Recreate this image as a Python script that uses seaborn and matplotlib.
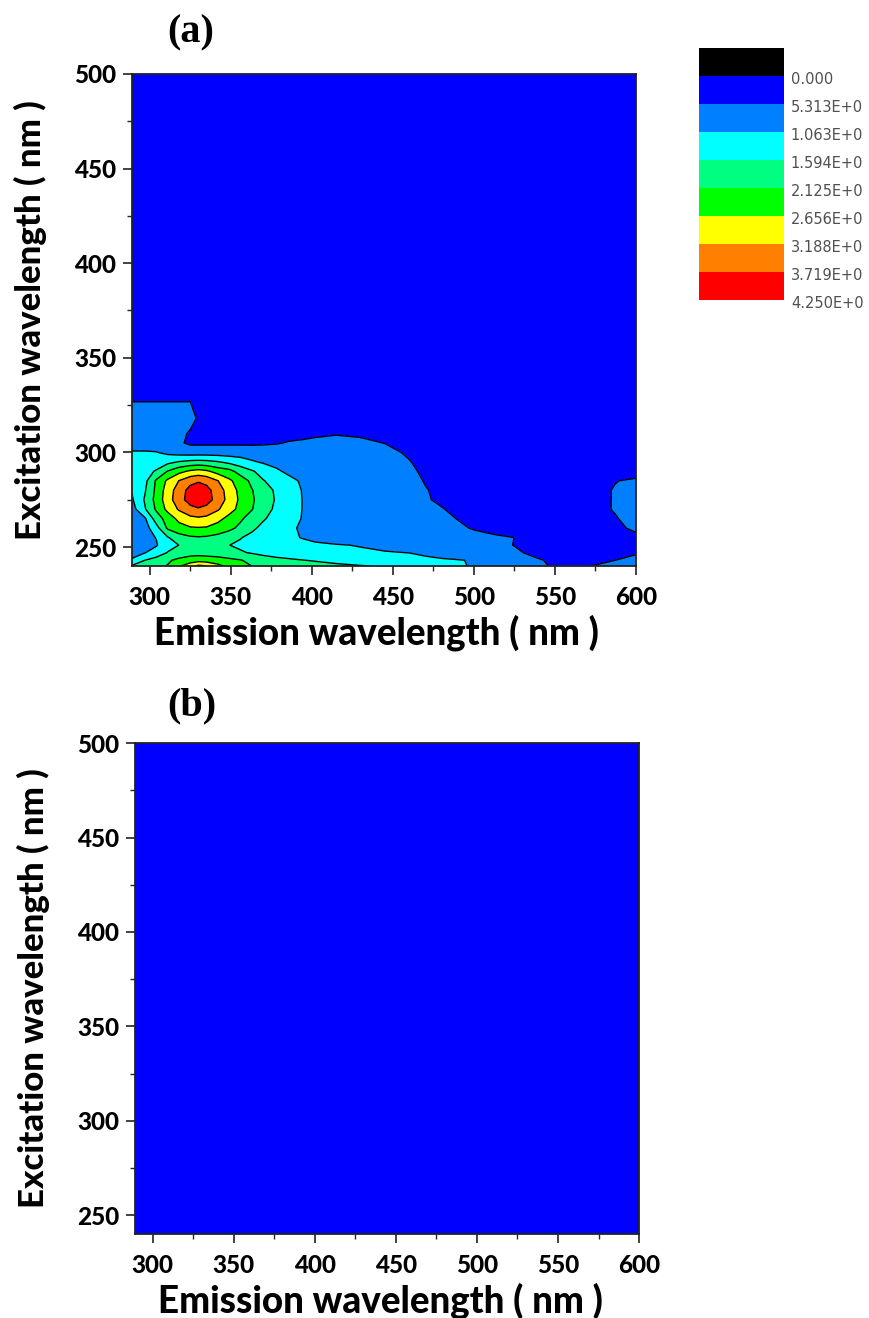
import matplotlib
matplotlib.use("Agg")
import matplotlib.pyplot as plt
from matplotlib.ticker import MultipleLocator
from matplotlib.transforms import ScaledTranslation
import numpy as np
import seaborn as sns

# emission (x) and excitation (y) grid nodes for panel (a), nm
EM_NODES = [289, 297, 304, 311, 318, 325, 330, 335, 342, 349, 356, 363, 370, 378, 386, 394,
            402, 415, 430, 445, 460, 470, 480, 490, 500, 512, 525, 537, 550, 562, 575, 587, 600]
EX_NODES = [240, 243, 247, 251, 255, 260, 265, 270, 275, 280, 285, 290, 295, 300, 305, 310,
            318, 328, 340, 500]

# fluorescence intensity, one row per excitation node
INTENSITY_A = [
    # 240
    [1.65, 1.85, 2.0, 2.15, 2.6, 2.95, 3.3, 3.2, 2.8, 2.5, 2.3, 2.12, 2.0, 1.9, 1.85, 1.8,
     1.75, 1.7, 1.62, 1.55, 1.4, 1.3, 1.2, 1.15, 1.0, 0.85, 0.7, 0.6, 0.5, 0.42, 0.55, 0.62, 0.7],
    # 243
    [1.1, 1.6, 1.8, 2.05, 2.25, 2.4, 2.45, 2.4, 2.35, 2.25, 2.15, 2.0, 1.85, 1.75, 1.68, 1.61,
     1.56, 1.45, 1.35, 1.25, 1.18, 1.14, 1.1, 1.08, 1.04, 0.9, 0.75, 0.6, 0.45, 0.4, 0.45, 0.53, 0.62],
    # 247
    [0.95, 1.05, 1.3, 1.62, 1.8, 1.9, 1.92, 1.9, 1.85, 1.75, 1.65, 1.55, 1.45, 1.35, 1.28, 1.22,
     1.18, 1.14, 1.1, 1.08, 1.06, 1.0, 0.95, 0.88, 0.8, 0.7, 0.6, 0.45, 0.35, 0.3, 0.35, 0.42, 0.5],
    # 251
    [0.85, 0.92, 1.02, 1.4, 1.6, 1.75, 1.78, 1.75, 1.7, 1.6, 1.5, 1.4, 1.3, 1.25, 1.2, 1.15,
     1.12, 1.08, 1.05, 1.0, 0.95, 0.9, 0.85, 0.8, 0.72, 0.65, 0.52, 0.4, 0.32, 0.3, 0.3, 0.32, 0.4],
    # 255
    [0.82, 0.9, 1.08, 1.55, 1.9, 2.05, 2.08, 2.05, 1.95, 1.8, 1.62, 1.45, 1.3, 1.2, 1.12, 1.05,
     0.98, 0.93, 0.9, 0.86, 0.82, 0.78, 0.74, 0.7, 0.66, 0.6, 0.53, 0.42, 0.35, 0.3, 0.3, 0.35, 0.45],
    # 260
    [0.8, 0.85, 1.4, 2.2, 2.45, 2.6, 2.62, 2.6, 2.45, 2.25, 2.0, 1.7, 1.45, 1.3, 1.15, 1.0,
     0.92, 0.86, 0.82, 0.78, 0.74, 0.7, 0.66, 0.6, 0.5, 0.4, 0.35, 0.3, 0.3, 0.3, 0.35, 0.45, 0.6],
    # 265
    [0.8, 1.0, 1.85, 2.35, 2.8, 3.05, 3.1, 3.05, 2.8, 2.5, 2.2, 1.9, 1.65, 1.4, 1.2, 1.05,
     0.95, 0.88, 0.82, 0.76, 0.72, 0.68, 0.62, 0.52, 0.42, 0.35, 0.3, 0.3, 0.3, 0.3, 0.38, 0.5, 0.68],
    # 270
    [0.85, 1.55, 2.2, 2.8, 3.25, 3.55, 3.65, 3.55, 3.25, 2.85, 2.5, 2.15, 1.8, 1.5, 1.25, 1.06,
     0.95, 0.88, 0.82, 0.75, 0.7, 0.65, 0.56, 0.42, 0.35, 0.3, 0.3, 0.3, 0.3, 0.3, 0.42, 0.56, 0.75],
    # 275
    [1.0, 1.65, 2.3, 2.95, 3.5, 3.95, 4.15, 3.95, 3.5, 3.0, 2.55, 2.2, 1.85, 1.55, 1.3, 1.06,
     0.95, 0.85, 0.8, 0.75, 0.7, 0.58, 0.45, 0.35, 0.3, 0.3, 0.3, 0.3, 0.3, 0.35, 0.45, 0.55, 0.7],
    # 280
    [1.1, 1.55, 2.25, 2.9, 3.45, 3.9, 4.1, 3.9, 3.45, 2.95, 2.5, 2.15, 1.82, 1.52, 1.25, 1.05,
     0.95, 0.88, 0.82, 0.78, 0.72, 0.56, 0.42, 0.35, 0.3, 0.3, 0.3, 0.3, 0.3, 0.35, 0.45, 0.55, 0.7],
    # 285
    [1.2, 1.45, 2.2, 2.75, 3.2, 3.55, 3.65, 3.55, 3.2, 2.75, 2.4, 2.0, 1.62, 1.4, 1.2, 1.0,
     0.9, 0.85, 0.82, 0.78, 0.7, 0.5, 0.38, 0.3, 0.3, 0.3, 0.3, 0.3, 0.3, 0.3, 0.4, 0.52, 0.58],
    # 290
    [1.25, 1.4, 1.65, 2.15, 2.5, 2.75, 2.85, 2.75, 2.45, 2.3, 1.9, 1.65, 1.4, 1.15, 0.95, 0.88,
     0.85, 0.83, 0.8, 0.75, 0.62, 0.45, 0.35, 0.3, 0.3, 0.3, 0.3, 0.3, 0.3, 0.3, 0.3, 0.35, 0.4],
    # 295
    [1.2, 1.25, 1.3, 1.45, 1.62, 1.72, 1.75, 1.72, 1.62, 1.45, 1.3, 1.12, 1.0, 0.9, 0.85, 0.83,
     0.85, 0.85, 0.82, 0.75, 0.56, 0.35, 0.3, 0.3, 0.3, 0.3, 0.3, 0.3, 0.3, 0.3, 0.3, 0.3, 0.3],
    # 300
    [1.1, 1.1, 1.08, 0.95, 0.85, 0.8, 0.8, 0.8, 0.8, 0.8, 0.8, 0.78, 0.76, 0.75, 0.75, 0.75,
     0.76, 0.78, 0.76, 0.7, 0.45, 0.3, 0.25, 0.25, 0.25, 0.25, 0.25, 0.25, 0.25, 0.25, 0.25, 0.25, 0.25],
    # 305
    [0.85, 0.85, 0.85, 0.8, 0.6, 0.45, 0.45, 0.45, 0.45, 0.45, 0.45, 0.45, 0.47, 0.5, 0.56, 0.6,
     0.64, 0.68, 0.64, 0.52, 0.35, 0.25, 0.25, 0.25, 0.25, 0.25, 0.25, 0.25, 0.25, 0.25, 0.25, 0.25, 0.25],
    # 310
    [0.75, 0.75, 0.75, 0.75, 0.72, 0.45, 0.4, 0.4, 0.4, 0.4, 0.4, 0.4, 0.4, 0.4, 0.4, 0.4,
     0.45, 0.5, 0.45, 0.35, 0.25, 0.25, 0.25, 0.25, 0.25, 0.25, 0.25, 0.25, 0.25, 0.25, 0.25, 0.25, 0.25],
    # 318
    [0.75, 0.75, 0.75, 0.75, 0.75, 0.75, 0.45, 0.3, 0.3, 0.3, 0.3, 0.3, 0.3, 0.3, 0.3, 0.3,
     0.3, 0.3, 0.3, 0.3, 0.3, 0.3, 0.3, 0.3, 0.3, 0.3, 0.3, 0.3, 0.3, 0.3, 0.3, 0.3, 0.3],
    # 328
    [0.5, 0.5, 0.5, 0.5, 0.5, 0.5, 0.5, 0.25, 0.25, 0.25, 0.25, 0.25, 0.25, 0.25, 0.25, 0.25,
     0.25, 0.25, 0.25, 0.25, 0.25, 0.25, 0.25, 0.25, 0.25, 0.25, 0.25, 0.25, 0.25, 0.25, 0.25, 0.25, 0.25],
    # 340
    [0.2] * 33,
    # 500
    [0.15] * 33,
]

# panel (b): flat, featureless map
EM_B = [289, 600]
EX_B = [240, 500]
INTENSITY_B = [[0.1, 0.1], [0.1, 0.1]]

LEVELS = [-0.5313, 0.0, 0.5313, 1.063, 1.594, 2.125, 2.656, 3.188, 3.719, 4.250]
LEVEL_COLORS = ["#000000", "#0000ff", "#0080ff", "#00ffff", "#00ff80",
                "#00ff00", "#ffff00", "#ff8000", "#ff0000"]
LEVEL_LABELS = ["0.000", "5.313E+0", "1.063E+0", "1.594E+0", "2.125E+0",
                "2.656E+0", "3.188E+0", "3.719E+0", "4.250E+0"]
PANEL_LABELS = ["(a)", "(b)"]
XLABEL = "Emission wavelength ( nm )"
YLABEL = "Excitation wavelength ( nm )"

sns.set_theme(style="ticks")
plt.rcParams["font.family"] = ["Lato", "DejaVu Sans"]
plt.rcParams["axes.edgecolor"] = "#222222"

fig = plt.figure(figsize=(8.7, 13.18), dpi=100)
ax_a = fig.add_axes([0.1517, 0.5706, 0.5793, 0.3733])
ax_b = fig.add_axes([0.1552, 0.0637, 0.5793, 0.3725])
cax = fig.add_axes([0.8034, 0.7724, 0.0977, 0.1912])

cf = ax_a.contourf(EM_NODES, EX_NODES, np.array(INTENSITY_A), levels=LEVELS, colors=LEVEL_COLORS)
ax_a.contour(EM_NODES, EX_NODES, np.array(INTENSITY_A), levels=LEVELS[2:-1],
             colors="black", linewidths=1.0)
ax_b.contourf(EM_B, EX_B, np.array(INTENSITY_B), levels=LEVELS, colors=LEVEL_COLORS)

for ax in (ax_a, ax_b):
    ax.set_xlim(289, 600)
    ax.set_ylim(240, 500)
    ax.xaxis.set_major_locator(MultipleLocator(50))
    ax.xaxis.set_minor_locator(MultipleLocator(25))
    ax.yaxis.set_major_locator(MultipleLocator(50))
    ax.yaxis.set_minor_locator(MultipleLocator(25))
    ax.tick_params(which="major", direction="out", length=6.5, width=1.2,
                   labelsize=17.5, colors="#222222")
    ax.tick_params(axis="x", which="major", pad=8)
    ax.tick_params(axis="y", which="major", pad=5)
    ax.tick_params(which="minor", direction="out", length=3.5, width=1.0)
    for lab in ax.get_xticklabels() + ax.get_yticklabels():
        lab.set_fontweight("black")
        lab.set_color("black")
    for sp in ax.spines.values():
        sp.set_linewidth(1.3)
    ax.set_xlabel(XLABEL, fontsize=26.5, fontweight="black", color="black", va="center")
    ax.set_ylabel(YLABEL, fontsize=25, fontweight="black", color="black", va="center")
    ax.xaxis.set_label_coords(0.486, -0.135)
    ax.yaxis.set_label_coords(-0.202, 0.5)

fig.text(0.2195, 0.975, PANEL_LABELS[0], family="Liberation Serif", fontsize=29,
         fontweight="bold", ha="center", va="center", color="black")
fig.text(0.2207, 0.4645, PANEL_LABELS[1], family="Liberation Serif", fontsize=29,
         fontweight="bold", ha="center", va="center", color="black")

cb = fig.colorbar(cf, cax=cax, ticks=LEVELS[1:])
cb.ax.set_yticklabels(LEVEL_LABELS)
cax.invert_yaxis()
cb.outline.set_visible(False)
cax.tick_params(length=0, pad=5, labelsize=10.5, labelcolor="#505050")
shift = ScaledTranslation(0, -1.5 / 72, fig.dpi_scale_trans)
for lab in cax.get_yticklabels():
    lab.set_family(["DejaVu Sans"])
    lab.set_transform(lab.get_transform() + shift)

fig.savefig("out.png", dpi=100)
